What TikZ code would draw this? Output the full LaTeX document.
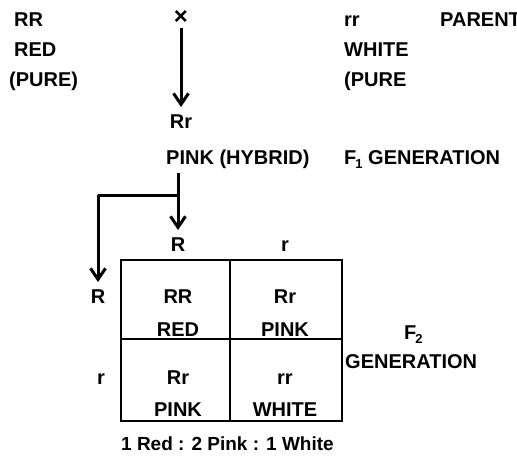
\documentclass[tikz,border=0pt]{standalone}
\usepackage{fontspec}
\setmainfont{Liberation Sans}
\usetikzlibrary{arrows.meta}
\newcommand{\sbs}[1]{\kern-1pt\raisebox{-0.45ex}{\fontsize{13}{13}\selectfont\bfseries #1}}
\begin{document}
\begin{tikzpicture}[x=1pt,y=-1pt,
  txt/.style={font=\fontsize{20}{20}\selectfont\bfseries, inner sep=0pt},
  lt/.style={txt, anchor=base west},
  ct/.style={txt, anchor=base},
  tip/.tip={Straight Barb[length=11pt,width=15pt,line width=3pt]},
  arr/.style={line width=3pt, -tip},
  ln/.style={line width=3pt},
  grid/.style={line width=2.4pt}]
\useasboundingbox (0,0) rectangle (517,458);
% parents
\node[lt] (rr1) at (14,26) {RR};
\node[lt] (red1) at (14,56) {RED};
\node[lt] (pure1) at (9,86) {(PURE)};
\node[txt, font=\fontsize{24}{24}\selectfont\bfseries] (x) at (181,18) {×};
\node[lt] (rr2) at (344,26) {rr};
\node[lt] (par) at (440,26) {PARENT};
\node[lt] (white1) at (344,56) {WHITE};
\node[lt] (pure2) at (344,86) {(PURE};
% F1
\node[ct] (Rr) at (181,128) {Rr};
\node[lt] (pink) at (166,164) {PINK (HYBRID)};
\node[lt] (f1) at (344,164) {F\sbs{1} GENERATION};
\coordinate (xs) at (181,28);
\coordinate (xe) at (181,107);
\draw[arr] (xs) -- (xe);
% gametes
\node[ct] (cR) at (178,251) {R};
\node[ct] (cr) at (285,251) {r};
\node[ct] (rR) at (98,303) {R};
\node[ct] (rr) at (101,384) {r};
\coordinate (p0) at (178,173);
\coordinate (p1) at (178,230);
\coordinate (j) at (178,195);
\coordinate (k) at (98,195);
\coordinate (k1) at (98,282);
\draw[arr] (p0) -- (p1);
\draw[ln] (j) -- (k);
\draw[arr] (k) -- (k1);
% grid
\draw[grid] (121,260) rectangle (342,421);
\draw[grid] (121,339) -- (342,339);
\draw[grid] (230,260) -- (230,421);
\node[ct] (c11) at (178,303) {RR};
\node[ct] (c11b) at (178,336) {RED};
\node[ct] (c12) at (285,303) {Rr};
\node[ct] (c12b) at (285,336) {PINK};
\node[ct] (c21) at (178,384) {Rr};
\node[ct] (c21b) at (178,416) {PINK};
\node[ct] (c22) at (285,384) {rr};
\node[ct] (c22b) at (285,416) {WHITE};
% F2
\node[lt] (f2) at (404,339) {F\sbs{2}};
\node[lt] (gen) at (345,368) {GENERATION};
\node[lt, font=\fontsize{19}{19}\selectfont\bfseries] (ratio) at (121,450) {1 Red : 2 Pink : 1 White};
\end{tikzpicture}
\end{document}
